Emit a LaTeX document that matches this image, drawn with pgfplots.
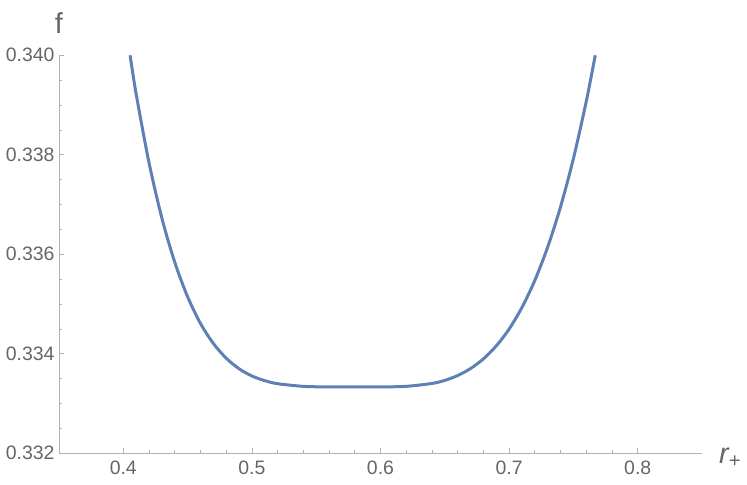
\documentclass[border=0pt]{standalone}
\usepackage{fontspec}
\setmainfont{Liberation Sans}
\usepackage{pgfplots}
\pgfplotsset{compat=1.18}
\definecolor{mmablue}{rgb}{0.368,0.507,0.710}
\definecolor{axgray}{gray}{0.70}
\definecolor{txtgray}{gray}{0.40}
\begin{document}
\begin{tikzpicture}
% fix page to the reference's frame (axis box is 643x398 bp)
\useasboundingbox (-59bp,-31.7bp) rectangle (688bp,453.3bp);
\begin{axis}[
    scale only axis,
    width=643bp, height=398bp,
    xmin=0.35, xmax=0.85,
    ymin=0.332, ymax=0.340,
    axis lines*=left,
    axis line style={axgray, line width=0.9pt},
    xtick={0.4,0.5,0.6,0.7,0.8},
    ytick={0.332,0.334,0.336,0.338,0.340},
    minor x tick num=4,
    minor y tick num=3,
    scaled x ticks=false, scaled y ticks=false,
    tick align=inside,
    major tick length=5bp, minor tick length=3bp,
    every tick/.style={axgray, line width=0.7pt},
    x tick label style={/pgf/number format/fixed, /pgf/number format/precision=1},
    y tick label style={/pgf/number format/fixed, /pgf/number format/fixed zerofill, /pgf/number format/precision=3},
    /pgf/number format/assume math mode=true,
    tick label style={font=\fontsize{19.5}{22}\selectfont, text=txtgray},
    xticklabel style={yshift=-4bp},
    yticklabel style={xshift=-1bp},
    xlabel={\itshape r\textsubscript{\upshape +}},
    ylabel={f},
    every axis x label/.style={at={(rel axis cs:1,0)}, anchor=base west, inner sep=0pt,
        xshift=17bp, yshift=-10bp, font=\fontsize{29}{32}\selectfont, text=txtgray},
    every axis y label/.style={at={(rel axis cs:0,1)}, anchor=base, inner sep=0pt,
        yshift=22bp, font=\fontsize{29}{32}\selectfont, text=txtgray},
    clip=true,
]
\addplot[mmablue, line width=3bp, smooth] coordinates {
    (0.4053,0.340000) (0.4100,0.339221) (0.4200,0.337841) (0.4300,0.336727)
    (0.4400,0.335841) (0.4500,0.335147) (0.4600,0.334611) (0.4700,0.334209)
    (0.4800,0.333912) (0.4900,0.333700) (0.5000,0.333555) (0.5100,0.333460)
    (0.5200,0.333399) (0.5400,0.333346) (0.5600,0.333334) (0.5850,0.333333)
    (0.6000,0.333334) (0.6200,0.333346) (0.6400,0.333404) (0.6500,0.333466)
    (0.6600,0.333563) (0.6700,0.333703) (0.6800,0.333897) (0.6900,0.334158)
    (0.7000,0.334497) (0.7100,0.334932) (0.7200,0.335476) (0.7300,0.336145)
    (0.7400,0.336955) (0.7500,0.337923) (0.7600,0.339073) (0.7670,0.340000)
};
\end{axis}
\end{tikzpicture}
\end{document}
